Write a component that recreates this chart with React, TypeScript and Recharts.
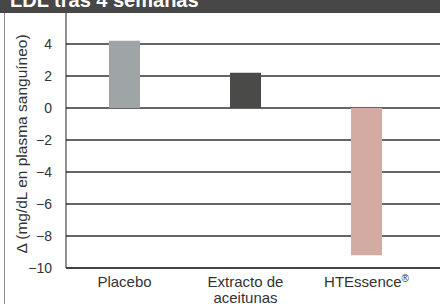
import React from "react";
import { BarChart, Bar, XAxis, YAxis, CartesianGrid, Cell } from "recharts";

const title = "LDL tras 4 semanas";
const yAxisTitle = "Δ (mg/dL en plasma sanguíneo)";
const categories = ["Placebo", "Extracto de aceitunas", "HTEssence®"];
const categoryLines = [["Placebo"], ["Extracto de", "aceitunas"], ["HTEssence®"]];
const values = [4.2, 2.2, -9.2];
const barColors = ["#9fa4a7", "#4a4a48", "#d3aba2"];
const yTicks = [-10, -8, -6, -4, -2, 0, 2, 4];
const yDomain = [-10, 6];

const data = categories.map((name, i) => ({ name, value: values[i] }));

const FONT = "'Liberation Sans', Arial, Helvetica, sans-serif";
const TEXT = "#333333";

const renderLine = (l: string, x: number, dy: number, key: number) => {
  if (l.endsWith("®")) {
    const base = l.slice(0, -1);
    return (
      <tspan key={key} x={x} dy={dy}>
        {base}
        <tspan fontSize={10} dy={-5}>®</tspan>
      </tspan>
    );
  }
  return (
    <tspan key={key} x={x} dy={dy}>
      {l}
    </tspan>
  );
};

const XTick = (props: any) => {
  const { x, y, payload } = props;
  const idx = categories.indexOf(payload.value);
  const lines = idx >= 0 ? categoryLines[idx] : [payload.value];
  return (
    <text x={x} y={y} textAnchor="middle" fontFamily={FONT} fontSize={15} fill={TEXT}>
      {lines.map((l: string, i: number) => renderLine(l, x, i === 0 ? 11 : 16, i))}
    </text>
  );
};

const YLabel = (props: any) => {
  const vb = props.viewBox || { x: 0, y: 0, width: 0, height: 0 };
  const cx = vb.x + 27;
  const cy = vb.y + vb.height / 2 + 4;
  return (
    <text
      x={cx}
      y={cy}
      transform={`rotate(-90, ${cx}, ${cy})`}
      textAnchor="middle"
      fontFamily={FONT}
      fontSize={15.5}
      fill={TEXT}
    >
      {yAxisTitle}
    </text>
  );
};

export default function App() {
  return (
    <div style={{ position: "absolute", left: 0, top: 0, width: 440, height: 304, background: "#fff", overflow: "hidden" }}>
      <BarChart width={440} height={304} data={data} margin={{ top: 12, right: 0, bottom: 0, left: 0 }}>
        <CartesianGrid vertical={false} stroke="#333" strokeWidth={1.3} />
        <XAxis
          dataKey="name"
          height={36}
          axisLine={{ stroke: "#222" }}
          tickLine={false}
          tick={<XTick />}
          interval={0}
          padding={{ left: -2, right: 13 }}
        />
        <YAxis
          width={66}
          domain={yDomain}
          ticks={yTicks}
          allowDataOverflow
          tickLine={false}
          tickMargin={8}
          axisLine={{ stroke: "#222" }}
          tick={{ fontSize: 14, fill: TEXT, fontFamily: FONT }}
          tickFormatter={(v: number) => String(v).replace("-", "\u2212")}
          label={<YLabel />}
        />
        <Bar dataKey="value" barSize={31} isAnimationActive={false}>
          {data.map((d, i) => (
            <Cell key={d.name} fill={barColors[i]} />
          ))}
        </Bar>
      </BarChart>
      <svg width={440} height={304} style={{ position: "absolute", left: 0, top: 0, pointerEvents: "none" }}>
        <rect x={0} y={0} width={440} height={13} fill="#474747" />
        <text x={10} y={7} fontFamily={FONT} fontWeight="bold" fontSize={20} fill="#ffffff">
          {title}
        </text>
        <line x1={4.5} y1={13} x2={4.5} y2={304} stroke="#8a8a8a" strokeWidth={1} />
      </svg>
    </div>
  );
}
